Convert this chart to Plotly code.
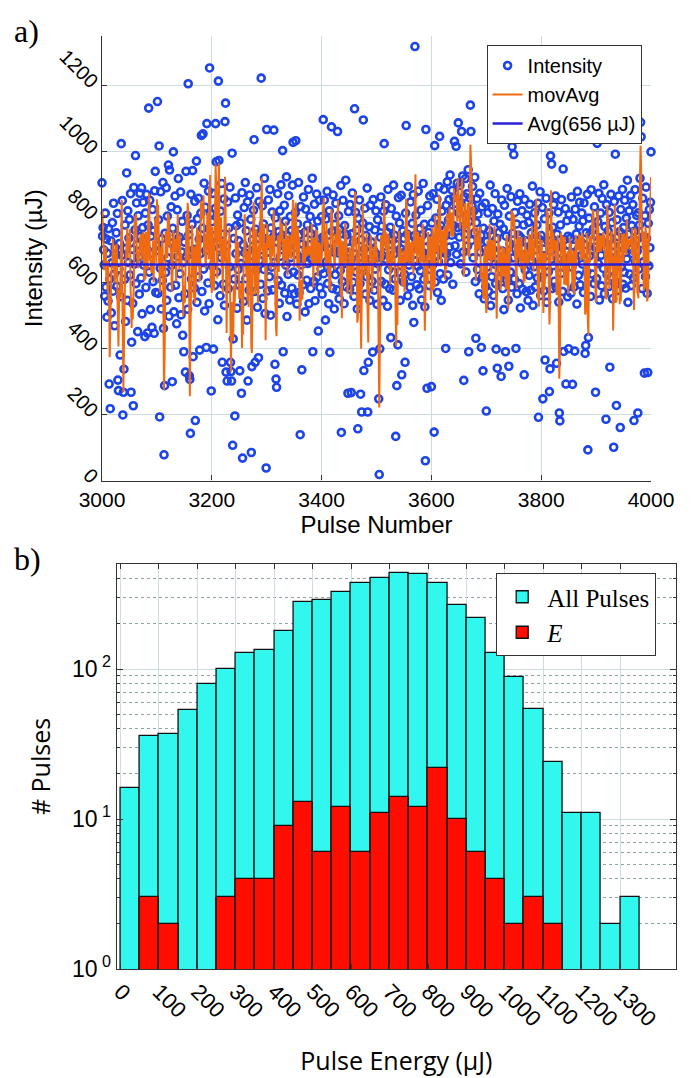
import plotly.graph_objects as go
import pandas as pd

# ---------------- data: panel a) ----------------
pulse_start = 3000
intensity = [
    904,742,768,701,655,560,812,587,733,496,690,545,765,293,612,218,728,509,661,783,575,842,626,470,707,
    688,752,590,811,305,273,642,720,381,558,1023,684,850,199,268,338,611,776,483,705,934,547,819,662,736,
    793,624,871,268,420,702,538,227,890,657,761,987,598,843,716,452,804,679,566,872,741,615,889,506,768,
    845,654,728,437,812,586,869,702,448,776,1131,633,851,519,742,690,465,823,604,758,447,880,939,571,698,
    713,1151,568,792,1016,193,645,877,521,734,608,905,462,78,288,751,632,889,547,803,676,958,499,943,722,
    587,831,654,300,766,998,512,708,864,593,745,476,822,681,917,555,739,628,876,503,694,787,441,662,391,
    724,567,329,939,681,805,520,1205,746,318,307,143,869,612,778,941,376,702,585,848,182,663,970,541,795,
    618,857,733,396,689,812,1048,574,766,1053,642,903,515,830,698,404,1084,752,600,879,537,1253,719,811,272,
    786,651,872,399,743,592,826,1084,968,634,719,488,1213,972,705,561,818,677,902,359,748,596,855,532,1090,
    1146,329,712,302,846,583,767,648,891,359,331,302,994,107,430,735,612,196,858,689,774,523,806,641,728,
    593,333,782,659,265,874,68,716,544,829,692,905,613,758,487,846,302,701,578,867,646,793,85,346,731,
    682,821,1035,574,359,763,638,889,526,715,373,847,668,752,596,1222,701,834,553,779,641,918,507,734,38,
    1066,693,576,852,731,619,884,502,767,648,815,579,740,1064,662,353,798,308,283,724,871,607,756,538,819,
    681,898,593,745,1002,391,712,836,569,787,654,922,498,743,626,865,711,548,802,677,759,584,897,1027,633,
    742,567,813,1032,688,536,779,624,905,571,746,139,832,655,336,718,594,861,679,753,512,824,697,608,776,
    659,884,537,716,802,583,749,672,918,391,764,605,839,546,721,693,870,618,788,454,732,851,586,707,643,
    801,566,739,1096,628,852,713,487,794,665,878,598,745,537,819,389,702,641,1074,756,583,867,694,521,778,
    625,842,717,579,1060,691,804,552,763,638,896,146,729,604,851,683,537,774,659,912,588,746,693,265,817,
    706,581,838,664,267,749,873,602,725,559,1129,688,814,633,760,521,157,796,677,852,598,262,731,208,645,
    782,1095,334,703,827,566,744,619,888,208,359,691,771,547,836,672,724,605,390,853,698,578,761,642,819,
    687,535,792,658,248,18,400,739,861,604,772,683,547,818,1023,712,596,837,671,754,529,884,640,716,583,
    769,434,826,652,731,578,897,688,745,612,134,803,288,716,412,859,633,782,547,704,866,321,691,758,603,
    735,626,359,812,1078,679,748,561,893,654,725,587,846,702,619,781,532,868,480,743,1318,667,806,594,737,
    651,879,716,582,765,637,821,548,744,693,902,611,778,527,60,1066,709,280,835,676,753,592,864,641,718,
    285,782,654,871,719,147,1017,603,797,682,854,571,736,665,892,1045,628,774,547,818,703,759,612,884,691,
    742,401,836,688,907,624,791,853,709,928,662,817,745,881,596,774,859,1030,713,842,1015,687,903,768,1086,
    812,739,896,658,843,1060,771,925,694,304,862,748,917,633,806,871,712,944,391,787,858,1140,1060,729,834,
    893,676,818,752,921,604,432,783,856,641,809,728,567,872,694,745,404,831,617,333,766,552,704,842,589,
    211,726,648,813,574,759,682,897,531,744,619,826,703,562,788,657,871,598,399,735,341,809,672,753,614,
    778,641,316,852,697,583,764,519,836,655,391,742,608,887,671,548,347,803,719,633,862,587,1014,751,676,
    990,612,814,703,401,779,567,848,686,745,598,871,524,737,662,819,581,704,776,321,853,639,728,574,806,
    691,547,784,623,839,706,578,752,668,894,532,727,649,813,588,1088,701,776,615,842,192,733,659,877,562,
    744,618,829,248,703,576,795,366,682,857,541,1083,728,634,812,270,339,986,697,961,583,769,652,838,605,
    721,864,587,356,748,673,815,542,205,181,776,629,853,708,574,946,392,731,664,826,293,695,789,558,742,
    400,807,674,735,569,861,648,292,793,712,588,393,824,667,749,536,878,701,623,772,845,594,726,683,812,
    657,788,571,843,716,386,410,752,634,869,93,434,797,682,748,559,883,701,627,1076,764,598,831,709,268,
    742,613,1024,786,659,872,548,737,812,684,591,856,723,644,898,567,771,702,186,838,625,1044,758,589,814,
    344,736,869,618,783,552,714,101,847,676,991,603,228,792,741,577,864,689,756,161,823,648,715,884,596,
    768,632,851,706,584,797,673,912,541,748,819,627,703,866,592,774,689,838,615,182,757,883,664,729,805,
    697,205,813,642,776,918,1088,1044,719,583,857,664,742,326,804,619,891,735,568,328,781,652,823,707,845,
    998,
]
avg_value = 656
mov_window = 3
x_ticks_a = [3000, 3200, 3400, 3600, 3800, 4000]
y_ticks_a = [0, 200, 400, 600, 800, 1000, 1200]

# ---------------- data: panel b) ----------------
bin_start = [0, 50, 100, 150, 200, 250, 300, 350, 400, 450, 500, 550, 600, 650,
             700, 750, 800, 850, 900, 950, 1000, 1050, 1100, 1150, 1200, 1250, 1300]
bin_width = 50
all_pulses = [16, 36, 37, 53, 79, 100, 127, 133, 180, 278, 288, 324, 373, 406,
              437, 430, 374, 268, 219, 128, 88, 54, 24, 11, 11, 2, 3]
e_pulses = [None, 3, 2, None, None, 3, 4, 4, 9, 13, 6, 12, 6, 11,
            14, 12, 22, 10, 6, 4, 2, 3, 2, None, None, None, None]
x_ticks_b = [0, 100, 200, 300, 400, 500, 600, 700, 800, 900, 1000, 1100, 1200, 1300]
y_ticks_b = [1, 10, 100]
y_ticktext_b = ["10<sup> 0</sup>", "10<sup> 1</sup>", "10<sup> 2</sup>"]
y_minor_b = [2, 3, 4, 5, 6, 7, 8, 9, 20, 30, 40, 50, 60, 70, 80, 90, 200, 300, 400, 500]

# ---------------- derived ----------------
pulses = list(range(pulse_start, pulse_start + len(intensity)))
mov_avg = pd.Series(intensity).rolling(mov_window, center=True, min_periods=1).mean().tolist()
bin_center = [b + bin_width / 2 for b in bin_start]

W, H = 692, 1078
ML, MR, MT, MB = 94, 1, 28, 117
PW, PH = W - ML - MR, H - MT - MB

def px_x(p):
    return (p - ML) / PW

def px_y(p):
    return (H - MB - p) / PH

SANS = "Liberation Sans, Arial, sans-serif"
SANS_B = "Open Sans, DejaVu Sans, sans-serif"
SERIF = "Liberation Serif, DejaVu Serif, serif"
GRID = "#cddcdf"
AXC = "#333333"

fig = go.Figure()

fig.add_trace(go.Scatter(
    x=pulses, y=intensity, mode="markers", name="Intensity",
    marker=dict(symbol="circle-open", size=7, color="#1c44e8", line=dict(width=2.6, color="#1c44e8")),
    cliponaxis=False, xaxis="x", yaxis="y", legend="legend"))
fig.add_trace(go.Scatter(
    x=pulses, y=mov_avg, mode="lines", name="movAvg",
    line=dict(color="#f06a12", width=2), xaxis="x", yaxis="y", legend="legend"))
fig.add_trace(go.Scatter(
    x=[pulses[0], pulses[-1]], y=[avg_value, avg_value], mode="lines",
    name="Avg(%d µJ)" % avg_value,
    line=dict(color="#2a1ed8", width=2.5), xaxis="x", yaxis="y", legend="legend"))

fig.add_trace(go.Bar(
    x=bin_center, y=all_pulses, width=bin_width, name="All Pulses",
    marker=dict(color="#32f7ef", line=dict(color="#111111", width=1.3)),
    xaxis="x2", yaxis="y2", legend="legend2"))
fig.add_trace(go.Bar(
    x=bin_center, y=e_pulses, width=bin_width, name="<i>E</i>",
    marker=dict(color="#ff0d00", line=dict(color="#111111", width=1.3)),
    xaxis="x2", yaxis="y2", legend="legend2"))

fig.update_layout(
    width=W, height=H,
    margin=dict(l=ML, r=MR, t=MT, b=MB),
    paper_bgcolor="white", plot_bgcolor="white",
    barmode="overlay", bargap=0,
    font=dict(family=SANS, color="#000000"),
    xaxis=dict(
        domain=[0, px_x(665)], anchor="y", range=[3000, 4000],
        tickvals=x_ticks_a, showgrid=True, gridcolor=GRID, gridwidth=1,
        zeroline=False, showline=True, linecolor=AXC, linewidth=1.2,
        ticks="inside", ticklen=5, tickcolor=AXC,
        tickfont=dict(family=SANS, size=21),
        title=dict(text="Pulse Number", font=dict(family=SANS, size=24), standoff=4),
    ),
    yaxis=dict(
        domain=[px_y(472.5), 1], anchor="x", range=[0, 1350],
        tickvals=y_ticks_a, tickangle=45, showgrid=True, gridcolor=GRID, gridwidth=1,
        zeroline=False, showline=True, linecolor=AXC, linewidth=1.2,
        ticks="inside", ticklen=5, tickcolor=AXC,
        tickfont=dict(family=SANS, size=20),
        title=dict(text="Intensity (µJ)", font=dict(family=SANS, size=24), standoff=6),
    ),
    xaxis2=dict(
        domain=[px_x(109.3), 1], anchor="y2", range=[-10, 1445],
        tickvals=x_ticks_b, tickangle=45, showgrid=True, gridcolor=GRID, gridwidth=1,
        zeroline=False, showline=True, mirror="allticks", linecolor=AXC, linewidth=1.2,
        ticks="inside", ticklen=5, tickcolor=AXC,
        tickfont=dict(family=SANS, size=22),
        title=dict(text="Pulse Energy (µJ)", font=dict(family=SANS_B, size=25), standoff=22),
    ),
    yaxis2=dict(
        domain=[0, px_y(556)], anchor="x2", type="log", range=[0, 2.7],
        tickvals=y_ticks_b, ticktext=y_ticktext_b, showgrid=True, gridcolor=GRID, gridwidth=1,
        zeroline=False, showline=True, mirror="allticks", linecolor=AXC, linewidth=1.2,
        ticks="inside", ticklen=6, tickcolor=AXC,
        tickfont=dict(family=SANS, size=23),
        minor=dict(tickvals=y_minor_b, ticks="inside", ticklen=3, tickcolor=AXC,
                   showgrid=True, gridcolor="#8fa2a6", griddash="dot", gridwidth=1),
        title=dict(text="# Pulses", font=dict(family=SANS_B, size=25), standoff=14),
    ),
    legend=dict(
        x=px_x(494), y=px_y(37), xanchor="left", yanchor="top",
        bgcolor="white", bordercolor=AXC, borderwidth=1,
        font=dict(family=SANS, size=20), tracegroupgap=0, itemwidth=30,
    ),
    legend2=dict(
        x=px_x(504), y=px_y(565), xanchor="left", yanchor="top",
        bgcolor="white", bordercolor=AXC, borderwidth=1,
        font=dict(family=SERIF, size=25), tracegroupgap=0, itemwidth=40,
    ),
    showlegend=True,
    annotations=[
        dict(text="a)", xref="paper", yref="paper", x=px_x(0), y=px_y(3),
             xanchor="left", yanchor="top", showarrow=False,
             font=dict(family=SERIF, size=32)),
        dict(text="b)", xref="paper", yref="paper", x=px_x(0), y=px_y(531),
             xanchor="left", yanchor="top", showarrow=False,
             font=dict(family=SERIF, size=32)),
    ],
)

fig.write_html("out.html")
